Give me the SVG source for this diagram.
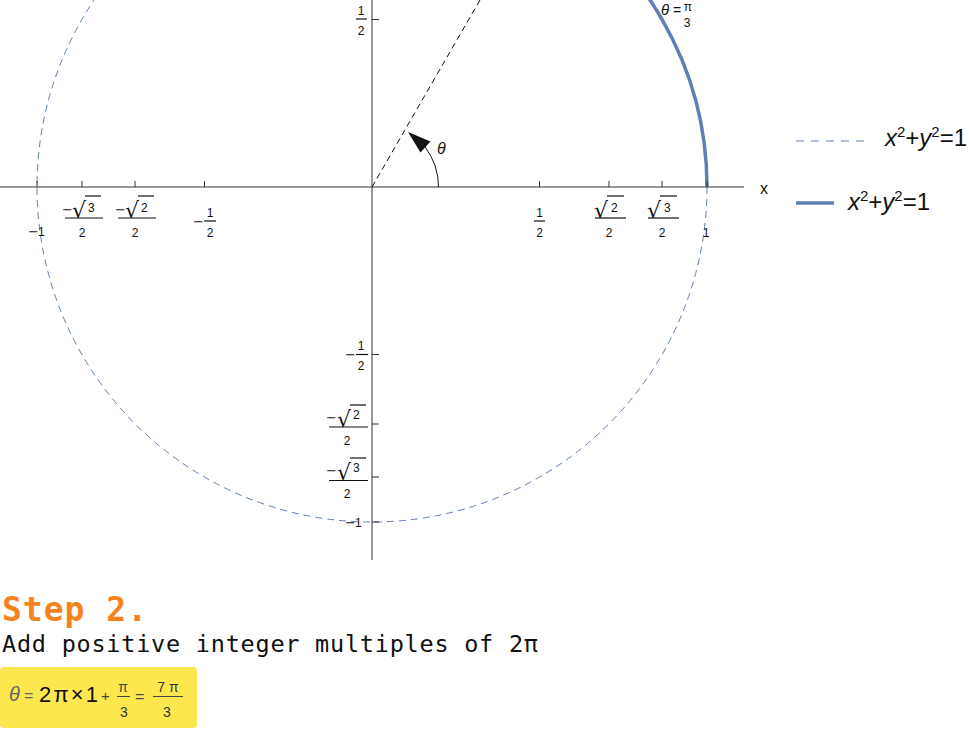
<svg xmlns="http://www.w3.org/2000/svg" width="972" height="729" viewBox="0 0 972 729">
<style>
.ax{stroke:#333;stroke-width:1;fill:none}
.tk{stroke:#333;stroke-width:1}
.t{font-family:"Liberation Sans",Arial,sans-serif;font-size:12px;fill:#111}
.tm{font-family:"Liberation Sans",Arial,sans-serif;font-size:12px;fill:#111;text-anchor:middle}
.mn{font-family:"DejaVu Sans",sans-serif;font-size:13px;fill:#111}
.rad{font-family:"DejaVu Sans",sans-serif;font-size:22px;fill:#111}
.bar{stroke:#111;stroke-width:1.2}
.lg{font-family:"Liberation Sans",Arial,sans-serif;font-size:24px;fill:#111}
.it{font-style:italic}
.mono{font-family:"DejaVu Sans Mono","Liberation Mono",monospace}
.fs{font-family:"Liberation Sans",Arial,sans-serif}
</style>
<rect width="972" height="729" fill="#fff"/>

<g id="curves">
<circle cx="372" cy="187" r="335" fill="none" stroke="#5E81B5" stroke-width="1" stroke-dasharray="7 5"/>
<path d="M707,187 A335,335 0 0 0 539.5,-103.1" fill="none" stroke="#5E81B5" stroke-width="3.5"/>
</g>

<g id="axes">
<line class="ax" x1="0" y1="187" x2="744" y2="187"/>
<line class="ax" x1="372" y1="0" x2="372" y2="560"/>
<g class="tk">
<line x1="37" y1="181" x2="37" y2="187"/>
<line x1="82" y1="181" x2="82" y2="187"/>
<line x1="135" y1="181" x2="135" y2="187"/>
<line x1="204.5" y1="181" x2="204.5" y2="187"/>
<line x1="539.5" y1="181" x2="539.5" y2="187"/>
<line x1="609" y1="181" x2="609" y2="187"/>
<line x1="662" y1="181" x2="662" y2="187"/>
<line x1="707" y1="181" x2="707" y2="187"/>
<line x1="372" y1="19.5" x2="379" y2="19.5"/>
<line x1="372" y1="354.5" x2="379" y2="354.5"/>
<line x1="372" y1="424" x2="379" y2="424"/>
<line x1="372" y1="477" x2="379" y2="477"/>
<line x1="372" y1="522" x2="379" y2="522"/>
</g>
<text x="760" y="194" class="fs" font-size="16" fill="#111">x</text>
</g>

<g id="xlabels">
<text class="mn" x="28" y="236">−</text><text class="t" x="38" y="236">1</text>
<!-- -sqrt3/2 -->
<text class="mn" x="62" y="214">−</text>
<text class="rad" x="72" y="218">√</text>
<line class="bar" x1="85" y1="196" x2="101" y2="196"/>
<text class="t" x="88" y="212">3</text>
<line class="bar" x1="65" y1="218" x2="103" y2="218"/>
<text class="tm" x="82" y="237">2</text>
<!-- -sqrt2/2 -->
<text class="mn" x="115" y="214">−</text>
<text class="rad" x="125" y="218">√</text>
<line class="bar" x1="138" y1="196" x2="154" y2="196"/>
<text class="t" x="141" y="212">2</text>
<line class="bar" x1="118" y1="218" x2="156" y2="218"/>
<text class="tm" x="135" y="237">2</text>
<!-- -1/2 -->
<text class="mn" x="193" y="226">−</text>
<text class="tm" x="210" y="217">1</text>
<line class="bar" x1="204" y1="221" x2="216" y2="221"/>
<text class="tm" x="210" y="237">2</text>
<!-- 1/2 -->
<text class="tm" x="539.5" y="217">1</text>
<line class="bar" x1="534" y1="221" x2="545" y2="221"/>
<text class="tm" x="539.5" y="237">2</text>
<!-- sqrt2/2 -->
<text class="rad" x="594" y="218">√</text>
<line class="bar" x1="607" y1="196" x2="624" y2="196"/>
<text class="t" x="611" y="212">2</text>
<line class="bar" x1="595" y1="218" x2="626" y2="218"/>
<text class="tm" x="609" y="237">2</text>
<!-- sqrt3/2 -->
<text class="rad" x="647" y="218">√</text>
<line class="bar" x1="660" y1="196" x2="677" y2="196"/>
<text class="t" x="664" y="212">3</text>
<line class="bar" x1="648" y1="218" x2="679" y2="218"/>
<text class="tm" x="662" y="237">2</text>
<text class="tm" x="706" y="237">1</text>
</g>

<g id="ylabels">
<text class="tm" x="361" y="15">1</text>
<line class="bar" x1="356" y1="19" x2="367" y2="19"/>
<text class="tm" x="361" y="35">2</text>
<!-- -1/2 -->
<text class="mn" x="345" y="359">−</text>
<text class="tm" x="361" y="350">1</text>
<line class="bar" x1="356" y1="354.5" x2="368" y2="354.5"/>
<text class="tm" x="361" y="370">2</text>
<!-- -sqrt2/2 -->
<text class="mn" x="326" y="422">−</text>
<text class="rad" x="337" y="427">√</text>
<line class="bar" x1="350" y1="405" x2="366" y2="405"/>
<text class="t" x="353" y="419">2</text>
<line class="bar" x1="329" y1="427" x2="368" y2="427"/>
<text class="tm" x="347" y="445">2</text>
<!-- -sqrt3/2 -->
<text class="mn" x="326" y="475">−</text>
<text class="rad" x="337" y="480">√</text>
<line class="bar" x1="350" y1="458" x2="366" y2="458"/>
<text class="t" x="353" y="472">3</text>
<line class="bar" x1="329" y1="480.5" x2="368" y2="480.5"/>
<text class="tm" x="347" y="498">2</text>
<text class="mn" x="345" y="527">−</text><text class="t" x="355" y="527">1</text>
</g>

<g id="angle">
<line x1="372" y1="187" x2="539.5" y2="-103.1" stroke="#111" stroke-width="1" stroke-dasharray="6 4"/>
<path d="M438.5,187 A66.5,66.5 0 0 0 425.1,147" fill="none" stroke="#111" stroke-width="1"/>
<polygon points="408,132 430.5,141.5 420.5,152.5" fill="#111"/>
<text x="437" y="154" class="fs" font-size="16" font-style="italic" fill="#111">θ</text>
<text x="661" y="15" class="fs" font-size="15" font-style="italic" fill="#111">θ</text>
<text x="673" y="15" class="fs" font-size="14" fill="#111">=</text>
<text class="tm" x="688" y="11" font-size="10">π</text>
<text class="tm" x="687" y="27">3</text>
</g>

<g id="legend">
<line x1="796" y1="141" x2="866" y2="141" stroke="#5E81B5" stroke-width="1" stroke-dasharray="8 7"/>
<text class="lg" x="885" y="146"><tspan class="it">x</tspan><tspan font-size="15" dy="-9">2</tspan><tspan dy="9">+</tspan><tspan class="it">y</tspan><tspan font-size="15" dy="-9">2</tspan><tspan dy="9">=1</tspan></text>
<line x1="796" y1="203" x2="834" y2="203" stroke="#5E81B5" stroke-width="3.5"/>
<text class="lg" x="848" y="210"><tspan class="it">x</tspan><tspan font-size="15" dy="-9">2</tspan><tspan dy="9">+</tspan><tspan class="it">y</tspan><tspan font-size="15" dy="-9">2</tspan><tspan dy="9">=1</tspan></text>
</g>

<g id="step">
<text class="mono" x="2" y="621" font-size="33" font-weight="bold" fill="#F5821F" textLength="145" lengthAdjust="spacing">Step 2.</text>
<text class="mono" x="2" y="652" font-size="23.5" fill="#111" textLength="536" lengthAdjust="spacing">Add positive integer multiples of 2π</text>
</g>

<g id="formula">
<rect x="0" y="667" width="197" height="61" rx="4" fill="#FDE74F"/>
<text x="9" y="701" class="fs" font-size="20" font-style="italic" fill="#666">θ</text>
<text x="24" y="701" class="fs" font-size="16" fill="#666">=</text>
<text x="39" y="702" class="fs" font-size="22" fill="#111" textLength="59" lengthAdjust="spacing">2π×1</text>
<text x="101" y="701" class="fs" font-size="15" fill="#444">+</text>
<text x="123" y="692" class="fs" font-size="14" fill="#444" text-anchor="middle">π</text>
<line x1="117" y1="696.5" x2="130" y2="696.5" stroke="#444" stroke-width="1"/>
<text x="124" y="717" class="fs" font-size="14" fill="#333" text-anchor="middle">3</text>
<text x="135" y="702" class="fs" font-size="16" fill="#444">=</text>
<text x="168" y="692" class="fs" font-size="14" fill="#333" text-anchor="middle">7 π</text>
<line x1="153" y1="696.5" x2="183" y2="696.5" stroke="#444" stroke-width="1"/>
<text x="167" y="717" class="fs" font-size="14" fill="#333" text-anchor="middle">3</text>
</g>
</svg>
